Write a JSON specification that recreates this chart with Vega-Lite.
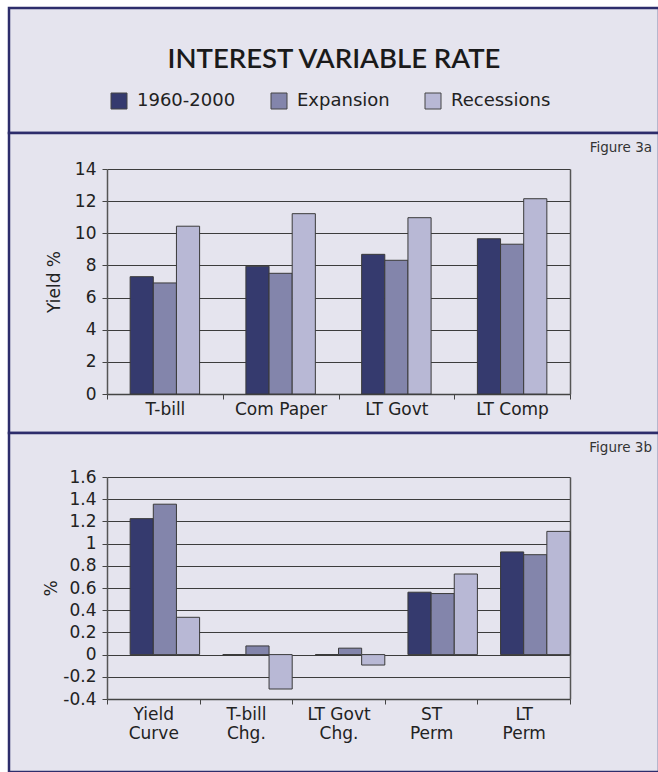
{
  "$schema": "https://vega.github.io/schema/vega-lite/v6.json",
  "background": "white",
  "padding": {"left": 7, "top": 6, "right": 0, "bottom": 0},
  "bounds": "flush",
  "spacing": 0,
  "datasets": {
    "a": [
      {"category": "T-bill", "series": "1960-2000", "value": 7.3},
      {"category": "T-bill", "series": "Expansion", "value": 6.91},
      {"category": "T-bill", "series": "Recessions", "value": 10.44},
      {"category": "Com Paper", "series": "1960-2000", "value": 7.95},
      {"category": "Com Paper", "series": "Expansion", "value": 7.51},
      {"category": "Com Paper", "series": "Recessions", "value": 11.22},
      {"category": "LT Govt", "series": "1960-2000", "value": 8.69},
      {"category": "LT Govt", "series": "Expansion", "value": 8.32},
      {"category": "LT Govt", "series": "Recessions", "value": 10.97},
      {"category": "LT Comp", "series": "1960-2000", "value": 9.66},
      {"category": "LT Comp", "series": "Expansion", "value": 9.32},
      {"category": "LT Comp", "series": "Recessions", "value": 12.15}
    ],
    "b": [
      {"category": "Yield Curve", "series": "1960-2000", "value": 1.225},
      {"category": "Yield Curve", "series": "Expansion", "value": 1.355},
      {"category": "Yield Curve", "series": "Recessions", "value": 0.336},
      {"category": "T-bill Chg.", "series": "1960-2000", "value": 0},
      {"category": "T-bill Chg.", "series": "Expansion", "value": 0.078},
      {"category": "T-bill Chg.", "series": "Recessions", "value": -0.31},
      {"category": "LT Govt Chg.", "series": "1960-2000", "value": 0},
      {"category": "LT Govt Chg.", "series": "Expansion", "value": 0.058},
      {"category": "LT Govt Chg.", "series": "Recessions", "value": -0.094},
      {"category": "ST Perm", "series": "1960-2000", "value": 0.562},
      {"category": "ST Perm", "series": "Expansion", "value": 0.55},
      {"category": "ST Perm", "series": "Recessions", "value": 0.726},
      {"category": "LT Perm", "series": "1960-2000", "value": 0.925},
      {"category": "LT Perm", "series": "Expansion", "value": 0.9},
      {"category": "LT Perm", "series": "Recessions", "value": 1.11}
    ]
  },
  "config": {
    "view": {"fill": "#e5e4ee", "stroke": "#2d2d6b", "strokeWidth": 2.5},
    "font": "DejaVu Sans",
    "axis": {"labelFont": "DejaVu Sans", "titleFont": "DejaVu Sans", "labelColor": "#222", "titleColor": "#222", "titleFontWeight": "normal"},
    "title": {"font": "DejaVu Sans"}
  },
  "vconcat": [
    {
      "width": 650,
      "height": 125,
      "view": {"fill": "#e5e4ee", "stroke": "#2d2d6b", "strokeWidth": 2.5},
      "data": {"values": [{"t": "INTEREST VARIABLE RATE"}]},
      "layer": [
        {
          "mark": {"type": "text", "font": "Lato", "fontSize": 27.5, "fontWeight": 600, "color": "#1a1a1a", "baseline": "alphabetic", "dy": -3},
          "encoding": {
            "text": {"field": "t", "type": "nominal"},
            "x": {"datum": 0.5, "type": "quantitative", "scale": {"domain": [0, 1], "nice": false, "zero": false}, "axis": null}
          }
        }
      ]
    },
    {
      "width": 650,
      "height": 300,
      "title": {"text": "Figure 3a", "anchor": "end", "frame": "group", "offset": -32, "fontSize": 13.5, "fontWeight": "normal", "color": "#333", "dx": -7, "baseline": "alphabetic"},
      "data": {"name": "a"},
      "layer": [
        {
          "mark": {"type": "bar", "stroke": "#3a3a3a", "strokeWidth": 1},
          "encoding": {
            "x": {"field": "category", "type": "nominal", "sort": null,
              "scale": {"range": [98, 561], "paddingInner": 0, "paddingOuter": 0},
              "axis": {"orient": "bottom", "offset": -39, "title": null, "labelAngle": 0, "tickBand": "extent", "tickSize": 5, "tickColor": "#444", "domainColor": "#444", "domainWidth": 1.5, "labelFontSize": 17, "labelPadding": 2, "grid": false}},
            "xOffset": {"field": "series", "type": "nominal", "sort": ["1960-2000", "Expansion", "Recessions"], "scale": {"paddingOuter": 2, "paddingInner": 0}},
            "y": {"field": "value", "type": "quantitative",
              "scale": {"domain": [0, 14], "range": [261, 36], "nice": false},
              "axis": {"offset": -98, "values": [0, 2, 4, 6, 8, 10, 12, 14], "title": "Yield %", "titleFontSize": 17, "titlePadding": 11, "labelFontSize": 17, "labelPadding": 6, "tickSize": 5, "tickColor": "#444", "grid": true, "gridColor": "#3c3c3c", "gridOpacity": 1, "gridWidth": 1, "domainColor": "#555", "domainWidth": 1.5}},
            "color": {"field": "series", "type": "nominal", "sort": ["1960-2000", "Expansion", "Recessions"],
              "scale": {"domain": ["1960-2000", "Expansion", "Recessions"], "range": ["#353a6e", "#8385ab", "#b8b8d5"]},
              "legend": {"orient": "none", "legendX": 101, "legendY": 84, "direction": "horizontal", "title": null, "symbolType": "square", "symbolSize": 256, "symbolStrokeColor": "#444", "symbolStrokeWidth": 1, "symbolOpacity": 1, "labelFontSize": 18, "labelOffset": 9, "columnPadding": 33, "labelColor": "#222", "labelFont": "DejaVu Sans"}}
          }
        },
        {
          "mark": {"type": "tick", "opacity": 0},
          "encoding": {
            "x": {"field": "category", "type": "nominal", "sort": null},
            "y": {"field": "value", "type": "quantitative",
              "scale": {"domain": [0, 14], "range": [261, 36], "nice": false},
              "axis": {"orient": "right", "offset": -89, "labels": false, "ticks": false, "grid": false, "title": null, "domainColor": "#555", "domainWidth": 1.5}}
          }
        }
      ],
      "resolve": {"scale": {"y": "independent"}}
    },
    {
      "width": 650,
      "height": 339,
      "title": {"text": "Figure 3b", "anchor": "end", "frame": "group", "offset": -32, "fontSize": 13.5, "fontWeight": "normal", "color": "#333", "dx": -7, "baseline": "alphabetic"},
      "data": {"name": "b"},
      "layer": [
        {
          "mark": {"type": "bar", "stroke": "#3a3a3a", "strokeWidth": 1},
          "encoding": {
            "x": {"field": "category", "type": "nominal", "sort": null,
              "scale": {"range": [98, 561], "paddingInner": 0, "paddingOuter": 0},
              "axis": {"orient": "bottom", "offset": -73, "title": null, "labelAngle": 0, "tickBand": "extent", "tickSize": 5, "tickColor": "#444", "domainColor": "#444", "domainWidth": 1.5, "labelFontSize": 17, "labelLineHeight": 19, "labelPadding": 2, "grid": false,
                "labelExpr": "[slice(datum.label, 0, lastindexof(datum.label, ' ')), slice(datum.label, lastindexof(datum.label, ' ') + 1)]"}},
            "xOffset": {"field": "series", "type": "nominal", "sort": ["1960-2000", "Expansion", "Recessions"], "scale": {"paddingOuter": 1.306, "paddingInner": 0}},
            "y": {"field": "value", "type": "quantitative",
              "scale": {"domain": [-0.4, 1.6], "range": [266, 44], "nice": false, "zero": true},
              "axis": {"offset": -98, "values": [-0.4, -0.2, 0, 0.2, 0.4, 0.6, 0.8, 1, 1.2, 1.4, 1.6], "labelExpr": "replace(format(datum.value, '~g'), '\u2212', '-')", "title": "%", "titleFontSize": 17, "titlePadding": 2, "labelFontSize": 17, "labelPadding": 6, "tickSize": 5, "tickColor": "#444", "grid": true, "gridColor": "#3c3c3c", "gridOpacity": 1, "gridWidth": 1, "domainColor": "#555", "domainWidth": 1.5}},
            "color": {"field": "series", "type": "nominal", "sort": ["1960-2000", "Expansion", "Recessions"],
              "scale": {"domain": ["1960-2000", "Expansion", "Recessions"], "range": ["#353a6e", "#8385ab", "#b8b8d5"]},
              "legend": {"orient": "none", "legendX": 101, "legendY": 84, "direction": "horizontal", "title": null, "symbolType": "square", "symbolSize": 256, "symbolStrokeColor": "#444", "symbolStrokeWidth": 1, "symbolOpacity": 1, "labelFontSize": 18, "labelOffset": 9, "columnPadding": 33, "labelColor": "#222", "labelFont": "DejaVu Sans"}}
          }
        },
        {
          "mark": {"type": "tick", "opacity": 0},
          "encoding": {
            "x": {"field": "category", "type": "nominal", "sort": null},
            "y": {"field": "value", "type": "quantitative",
              "scale": {"domain": [-0.4, 1.6], "range": [266, 44], "nice": false},
              "axis": {"orient": "right", "offset": -89, "labels": false, "ticks": false, "grid": false, "title": null, "domainColor": "#555", "domainWidth": 1.5}}
          }
        }
      ],
      "resolve": {"scale": {"y": "independent"}}
    }
  ]
}
